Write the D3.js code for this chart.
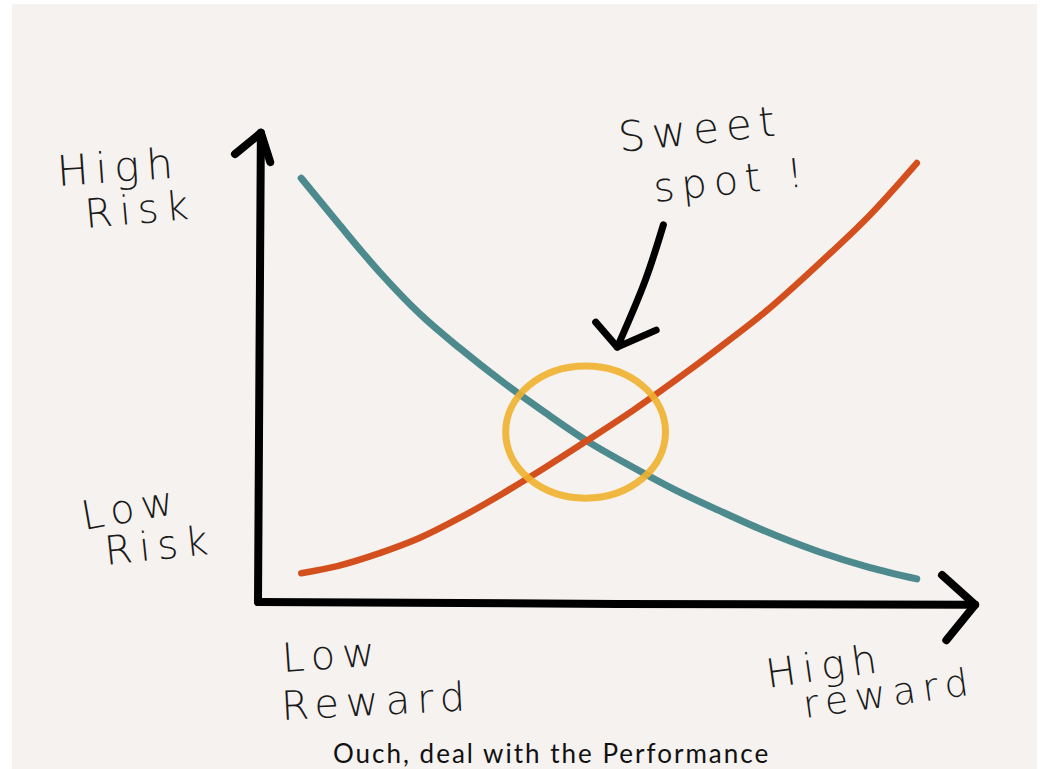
<!DOCTYPE html>
<html>
<head>
<meta charset="utf-8">
<script src="https://cdn.jsdelivr.net/npm/d3@7"></script>
<style>
  body { margin: 0; background: #fff; }
  svg { display: block; }
  .hand { font-family: "DejaVu Sans", sans-serif; font-weight: 300; fill: #1a1a1a; letter-spacing: 7px; }
</style>
</head>
<body>
<svg width="1040" height="769"></svg>
<script>
// reward (x) positions sampled along both curves, 0..100
var reward = [6, 11, 17, 22.5, 28, 34, 40, 45.5, 52, 58, 64, 70, 78, 85, 91.5];
// risk of the safe option (teal), falls as reward grows
var riskFalling = [89.8, 80.5, 69.7, 61.0, 53.8, 46.6, 40.0, 34.3, 28.6, 23.7, 19.4, 15.3, 10.6, 7.3, 4.9];
// the other curve (orange), climbs with reward
var riskRising = [6.1, 7.6, 10.4, 13.6, 17.8, 23.0, 28.6, 34.0, 40.5, 47.0, 53.8, 60.9, 71.8, 82.0, 93.0];

// sweet spot ring: centre and radii in data units
var sweetSpot = {x: 45.5, y: 36, rx: 11.1, ry: 14};
// pointer arrow: shaft then head, in data units
var pointerShaft = [[56.3, 79.9], [53.8, 68.2], [49.9, 54.0]];
var pointerHead = [[46.9, 59.3], [49.9, 54.0], [55.3, 57.6]];
// axis lines and arrow heads
var yAxisLine = [[0, 0], [0.2, 50], [0.4, 99.4]];
var yAxisHead = [[-3.2, 94.9], [0.4, 99.4], [1.7, 93.2]];
var xAxisLine = [[0, 0], [50, -0.4], [99.6, -0.6]];
var xAxisHead = [[95, 5.7], [99.6, -0.6], [95.6, -8.1]];

var svg = d3.select("svg");

svg.append("rect")
    .attr("x", 12).attr("y", 4)
    .attr("width", 1025).attr("height", 765)
    .attr("fill", "#f5f2ef");

var x = d3.scaleLinear().domain([0, 100]).range([258, 978]),
    y = d3.scaleLinear().domain([0, 100]).range([602, 130]);

var line = d3.line()
    .x(function(d) { return x(d[0]); })
    .y(function(d) { return y(d[1]); })
    .curve(d3.curveMonotoneX);

var smooth = d3.line()
    .x(function(d) { return x(d[0]); })
    .y(function(d) { return y(d[1]); })
    .curve(d3.curveCatmullRom);

var straight = d3.line()
    .x(function(d) { return x(d[0]); })
    .y(function(d) { return y(d[1]); });

// curves
svg.append("path")
    .attr("d", line(d3.zip(reward, riskFalling)))
    .attr("fill", "none").attr("stroke", "#4d8a8d")
    .attr("stroke-width", 7).attr("stroke-linecap", "round");

svg.append("path")
    .attr("d", line(d3.zip(reward, riskRising)))
    .attr("fill", "none").attr("stroke", "#d3501e")
    .attr("stroke-width", 6.5).attr("stroke-linecap", "round");

// sweet spot ring
svg.append("ellipse")
    .attr("cx", x(sweetSpot.x)).attr("cy", y(sweetSpot.y))
    .attr("rx", x(sweetSpot.rx) - x(0)).attr("ry", y(0) - y(sweetSpot.ry))
    .attr("fill", "none").attr("stroke", "#f0b12d")
    .attr("stroke-width", 7).attr("stroke-opacity", 0.9);

// axes
[yAxisLine, yAxisHead, xAxisLine, xAxisHead].forEach(function(pts) {
  svg.append("path")
      .attr("d", straight(pts))
      .attr("fill", "none").attr("stroke", "#000")
      .attr("stroke-width", 8)
      .attr("stroke-linecap", "round").attr("stroke-linejoin", "round");
});

// pointer
svg.append("path")
    .attr("d", smooth(pointerShaft))
    .attr("fill", "none").attr("stroke", "#000")
    .attr("stroke-width", 7).attr("stroke-linecap", "round");
svg.append("path")
    .attr("d", straight(pointerHead))
    .attr("fill", "none").attr("stroke", "#000")
    .attr("stroke-width", 7)
    .attr("stroke-linecap", "round").attr("stroke-linejoin", "round");

// handwritten labels
var labels = [
  {t: "High", x: 58, y: 186, r: -4, s: 42},
  {t: "Risk", x: 86, y: 228, r: -5, s: 40},
  {t: "Low", x: 84, y: 530, r: -10, s: 40},
  {t: "Risk", x: 106, y: 565, r: -6, s: 40},
  {t: "Sweet", x: 620, y: 152, r: -6, s: 42},
  {t: "spot !", x: 655, y: 202, r: -6, s: 40},
  {t: "Low", x: 283, y: 672, r: -4, s: 40},
  {t: "Reward", x: 282, y: 720, r: -3, s: 40},
  {t: "High", x: 768, y: 688, r: -8, s: 40},
  {t: "reward", x: 805, y: 718, r: -8, s: 38}
];

svg.selectAll("text.hand")
  .data(labels)
  .enter().append("text")
    .attr("class", "hand")
    .attr("transform", function(d) { return "translate(" + d.x + "," + d.y + ") rotate(" + d.r + ")"; })
    .attr("font-size", function(d) { return d.s; })
    .text(function(d) { return d.t; });

// caption along the bottom edge
svg.append("text")
    .attr("x", 333).attr("y", 763)
    .attr("font-family", "Lato, sans-serif")
    .attr("font-size", 26)
    .attr("fill", "#111")
    .attr("letter-spacing", 2)
    .text("Ouch, deal with the Performance");
</script>
</body>
</html>
